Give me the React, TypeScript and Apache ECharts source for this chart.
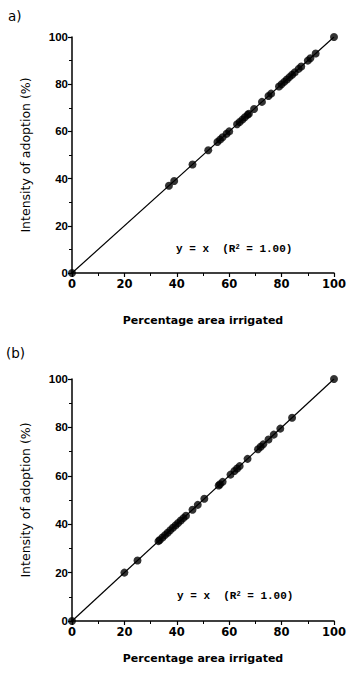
import React, { useEffect, useRef } from "react";
import * as echarts from "echarts";

// Panel (a): percentage area irrigated vs intensity of adoption (y = x)
const valuesA: number[] = [
  0, 37, 39, 46, 52, 55.5, 56.5, 57.5, 59, 60, 63, 64, 65, 66, 67, 67.5, 69.5,
  72.5, 75, 76, 79, 80, 81, 82, 83, 84, 85, 86.5, 87.5, 90, 91, 93, 100,
];
// Panel (b)
const valuesB: number[] = [
  0, 20, 25, 33, 33.5, 34.5, 35.5, 36.5, 37.5, 38.5, 39.5, 40.5, 41.5, 42.5,
  43.5, 46, 48, 50.5, 56, 56.5, 57.5, 60.5, 62, 63, 64, 67, 71, 72, 73, 75, 77,
  79.5, 84, 100,
];
const fitLine: number[] = [0, 100];
const xTitle = "Percentage area irrigated";
const yTitle = "Intensity of adoption (%)";
const panelLabels = ["a)", "(b)"];

const INK = "#000";

function axisX(gridIndex: number, nameGap: number) {
  return {
    type: "value",
    gridIndex,
    min: 0,
    max: 100,
    interval: 20,
    name: xTitle,
    nameLocation: "middle",
    nameGap,
    nameTextStyle: {
      color: INK,
      fontFamily: "DejaVu Sans",
      fontWeight: "bold",
      fontSize: 11,
    },
    axisLine: { show: true, lineStyle: { color: INK, width: 1.5 } },
    axisTick: { show: true, inside: false, length: 4, lineStyle: { color: INK, width: 1.2 } },
    minorTick: { show: true, splitNumber: 2, length: 3, lineStyle: { color: INK, width: 1 } },
    splitLine: { show: false },
    axisLabel: {
      color: INK,
      fontFamily: "DejaVu Sans",
      fontWeight: "bold",
      fontSize: 11.5,
      margin: 5,
    },
  };
}

function axisY(gridIndex: number) {
  return {
    type: "value",
    gridIndex,
    min: 0,
    max: 100,
    interval: 20,
    name: yTitle,
    nameLocation: "middle",
    nameGap: 40,
    nameRotate: 90,
    nameTextStyle: {
      color: INK,
      fontFamily: "DejaVu Sans",
      fontSize: 12.5,
    },
    axisLine: { show: true, lineStyle: { color: INK, width: 1.5 } },
    axisTick: { show: true, inside: false, length: 4, lineStyle: { color: INK, width: 1.2 } },
    minorTick: { show: true, splitNumber: 2, length: 3, lineStyle: { color: INK, width: 1 } },
    splitLine: { show: false },
    axisLabel: {
      color: INK,
      fontFamily: "Liberation Sans",
      fontWeight: "bold",
      fontSize: 11.5,
      margin: 4,
    },
  };
}

function seriesFor(idx: number, vals: number[]) {
  return [
    {
      type: "line",
      xAxisIndex: idx,
      yAxisIndex: idx,
      data: fitLine.map((v) => [v, v]),
      symbol: "none",
      lineStyle: { color: INK, width: 1.2 },
      silent: true,
      z: 2,
    },
    {
      type: "scatter",
      xAxisIndex: idx,
      yAxisIndex: idx,
      data: vals.map((v) => [v, v]),
      symbol: "circle",
      symbolSize: 8,
      itemStyle: { color: INK },
      clip: false,
      z: 3,
    },
  ];
}

function eqText(x: number, y: number) {
  return {
    type: "text",
    x,
    y,
    style: {
      text: "{m|y = x  (R}{s|2}{m| = 1.00)}",
      rich: {
        m: {
          fontFamily: "Liberation Mono",
          fontWeight: "bold",
          fontSize: 11,
          fill: INK,
        },
        s: {
          fontFamily: "Liberation Mono",
          fontWeight: "bold",
          fontSize: 7,
          fill: INK,
          verticalAlign: "top",
          padding: [0, 0, 5, 0],
        },
      },
      verticalAlign: "middle",
    },
  };
}

export default function App() {
  const ref = useRef<HTMLDivElement>(null);

  useEffect(() => {
    if (!ref.current) return;
    const chart = echarts.init(ref.current, undefined, { renderer: "svg" });
    chart.setOption({
      animation: false,
      backgroundColor: "#fff",
      grid: [
        { left: 72, top: 37, width: 266, height: 236 },
        { left: 72, top: 379, width: 267, height: 242 },
      ],
      xAxis: [axisX(0, 42), axisX(1, 32)],
      yAxis: [axisY(0), axisY(1)],
      series: [...seriesFor(0, valuesA), ...seriesFor(1, valuesB)],
      graphic: [
        {
          type: "text",
          x: 8,
          y: 16,
          style: {
            text: panelLabels[0],
            fontFamily: "DejaVu Sans",
            fontSize: 13.5,
            fill: INK,
            verticalAlign: "middle",
          },
        },
        {
          type: "text",
          x: 6,
          y: 353,
          style: {
            text: panelLabels[1],
            fontFamily: "DejaVu Sans",
            fontSize: 13.5,
            fill: INK,
            verticalAlign: "middle",
          },
        },
        eqText(176, 249),
        eqText(177, 596),
      ],
    });
    return () => chart.dispose();
  }, []);

  return (
    <div
      ref={ref}
      style={{ position: "absolute", left: 0, top: 0, width: 349, height: 677 }}
    />
  );
}
